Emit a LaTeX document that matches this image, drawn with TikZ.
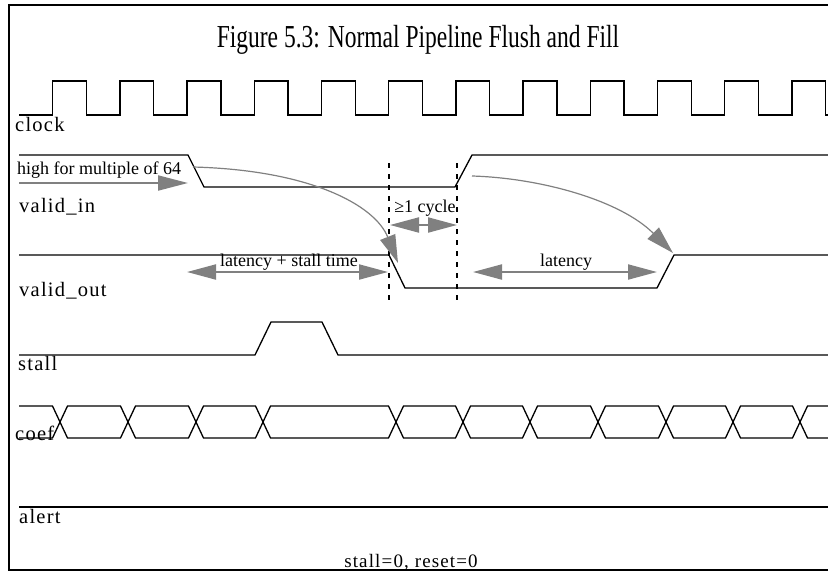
\documentclass[tikz,border=0pt]{standalone}
\usepackage{fontspec}
\setmainfont{Liberation Serif}
\newfontfamily\sigfont[LetterSpace=6]{Liberation Serif}
\usepackage{graphicx}
\usepackage{tikz}
\usetikzlibrary{arrows.meta}
\definecolor{annogray}{RGB}{128,128,128}

\begin{document}
\begin{tikzpicture}[x=1pt,y=-1pt,
    sig/.style={line width=1.3pt,line join=miter},
    lbl/.style={anchor=base west,inner sep=0pt,font=\sigfont\fontsize{20.5}{20}\selectfont},
    ann/.style={anchor=base,inner sep=0pt,font=\fontsize{18}{18}\selectfont},
    garrow/.style={annogray,line width=2pt,-{Triangle[length=30pt,width=15pt]}},
    gboth/.style={annogray,line width=2pt,{Triangle[length=29pt,width=15pt]}-{Triangle[length=29pt,width=15pt]}},
    gcurve/.style={annogray,line width=1.2pt,-{Triangle[length=28pt,width=16pt]}},
    vmark/.style={line width=2pt,dash pattern=on 5pt off 6pt}]
  \useasboundingbox (0,0) rectangle (828,574);
  \draw[line width=2pt] (830,5) -- (9,5) -- (9,570) -- (830,570);
  \node[anchor=base,inner sep=0pt](title) at (418,47)
    {\scalebox{0.735}[1]{\fontsize{32}{32}\selectfont Figure 5.3: Normal Pipeline Flush and Fill}};
  % clock
  \draw[sig] (19,115) \foreach \i in {0,...,11}{ -- ({52.7+67.2*\i},115) -- ++(0,-34) -- ++(33.8,0) -- ++(0,34)} -- (828,115);
  \node[lbl](clock) at (15,131){clock};
  % valid_in
  \draw[sig] (19,155) -- (188,155) -- (204,187) -- (455,187) -- (472,155) -- (828,155);
  \node[lbl,font=\fontsize{18}{18}\selectfont](hint) at (17,174){high for multiple of 64};
  \node[lbl](validin) at (19,212){valid\_in};
  % valid_out
  \draw[sig] (19,255) -- (389,255) -- (405,288) -- (657,288) -- (674,255) -- (828,255);
  \node[lbl](validout) at (19,296){valid\_out};
  % stall
  \draw[sig] (19,355) -- (255,355) -- (271,322) -- (322,322) -- (338,355) -- (828,355);
  \node[lbl](stall) at (18,370){stall};
  % coef
  \draw[sig] (19,406) -- (52.5,406) -- (60,422) -- (52.5,438) -- (19,438);
  \foreach \a/\b in {60/128,128/196,196/263,263/396,396/463,463/530,530/598,598/666,666/733,733/800}
    \draw[sig] (\a,422) -- ({\a+7.5},406) -- ({\b-7.5},406) -- (\b,422) -- ({\b-7.5},438) -- ({\a+7.5},438) -- cycle;
  \draw[sig] (828,406) -- (807.5,406) -- (800,422) -- (807.5,438) -- (828,438);
  \node[lbl](coef) at (15,440){coef};
  % alert
  \draw[line width=2pt] (19,507) -- (828,507);
  \node[lbl](alert) at (19,523){alert};
  \node[ann,font=\sigfont\fontsize{19}{19}\selectfont](mode) at (411,567){stall=0, reset=0};
  % cycle markers
  \coordinate (m1a) at (389,163);
  \coordinate (m1b) at (389,303);
  \coordinate (m2a) at (457,163);
  \coordinate (m2b) at (457,303);
  \draw[vmark] (m1a) -- (m1b);
  \draw[vmark] (m2a) -- (m2b);
  % annotations
  \coordinate (h1) at (19,183);
  \coordinate (h2) at (188,183);
  \draw[garrow] (h1) -- (h2);
  \coordinate (ls1) at (187,272);
  \coordinate (ls2) at (388,272);
  \draw[gboth] (ls1) -- (ls2);
  \node[ann](lstext) at (289,266){latency + stall time};
  \coordinate (cy1) at (390,225);
  \coordinate (cy2) at (457,225);
  \draw[gboth] (cy1) -- (cy2);
  \node[ann](cytext) at (425,212){≥1 cycle};
  \coordinate (lt1) at (473,272);
  \coordinate (lt2) at (657,272);
  \draw[gboth] (lt1) -- (lt2);
  \node[ann](lttext) at (566,266){latency};
  \coordinate (c1s) at (193,167);
  \coordinate (c1e) at (398,263);
  \draw[gcurve] (c1s) .. controls (310,170) and (375,205) .. (c1e);
  \coordinate (c2s) at (472,176);
  \coordinate (c2e) at (673,253);
  \draw[gcurve] (c2s) .. controls (540,178) and (620,200) .. (c2e);
\end{tikzpicture}
\end{document}
